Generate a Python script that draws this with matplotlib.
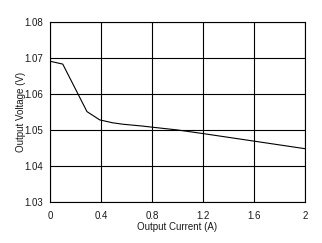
import numpy as np
import matplotlib
matplotlib.use("Agg")
import matplotlib.pyplot as plt

# Output current (A) and output voltage (V)
current = [0.0, 0.10, 0.29, 0.39, 0.49, 0.57, 0.72, 0.82, 1.0, 1.2, 1.6, 2.0]
voltage = [1.0692, 1.0684, 1.0552, 1.0529, 1.0521, 1.0517, 1.0512, 1.0508,
           1.0501, 1.0491, 1.0470, 1.0449]

xticks = [0, 0.4, 0.8, 1.2, 1.6, 2]
xticklabels = ["0", "0.4", "0.8", "1.2", "1.6", "2"]
yticks = [1.03, 1.04, 1.05, 1.06, 1.07, 1.08]

plt.rcParams['font.family'] = ['Liberation Sans', 'DejaVu Sans']
txt = "#1a1a1a"

fig = plt.figure(figsize=(3.22, 2.43), dpi=100)
ax = fig.add_axes([0.1553, 0.1675, 0.7917, 0.7405])

ax.plot(current, voltage, color="black", lw=0.8)

ax.set_xlim(0, 2)
ax.set_ylim(1.03, 1.08)
ax.set_xticks(xticks)
ax.set_xticklabels(xticklabels)
ax.set_yticks(yticks)
ax.set_yticklabels(["%.2f" % v for v in yticks])
ax.grid(True, color="black", lw=0.8)
ax.tick_params(axis="x", length=0, labelsize=7, colors=txt, pad=6)
ax.tick_params(axis="y", length=0, labelsize=7, colors=txt, pad=5)
for s in ax.spines.values():
    s.set_linewidth(0.8)

ax.set_xlabel("Output Current (A)", fontsize=7, color=txt, labelpad=1)
ax.set_ylabel("Output Voltage (V)", fontsize=7, color=txt, labelpad=-1)

fig.savefig("out.png", dpi=100)
